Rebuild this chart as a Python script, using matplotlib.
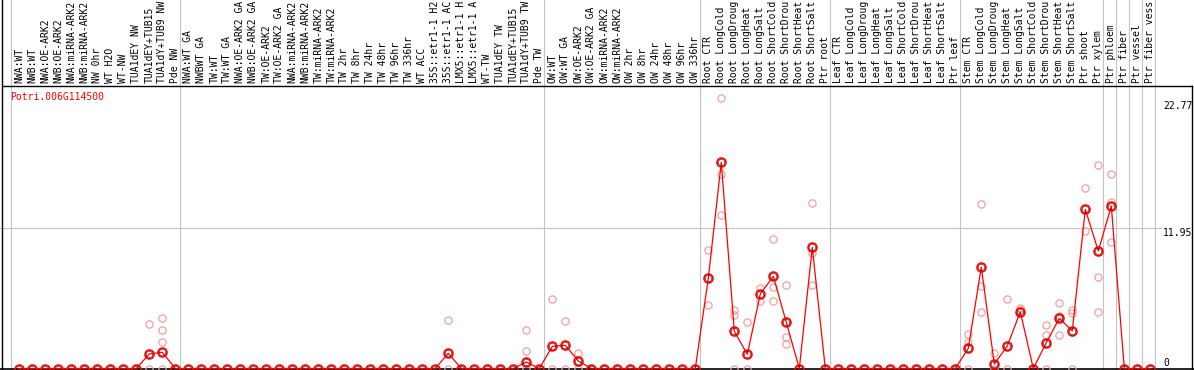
import numpy as np
import matplotlib
matplotlib.use("Agg")
import matplotlib.pyplot as plt
from matplotlib.transforms import blended_transform_factory

gene = "Potri.006G114500"

labels = [
    # NW
    "NWA:WT", "NWB:WT", "NWA:OE-ARK2", "NWB:OE-ARK2", "NWA:miRNA-ARK2", "NWB:miRNA-ARK2",
    "NW 0hr", "WT H2O", "WT-NW", "TUA1dEY NW", "TUA1dEY+TUB15", "TUA1dY+TUB9 NW", "Pde NW",
    # TW
    "NWA:WT GA", "NWBWT GA", "TW:WT", "TW:WT GA", "NWA:OE-ARK2 GA", "NWB:OE-ARK2 GA",
    "TW:OE-ARK2", "TW:OE-ARK2 GA", "NWA:miRNA-ARK2", "NWB:miRNA-ARK2", "TW:miRNA-ARK2",
    "TW:miRNA-ARK2", "TW 2hr", "TW 8hr", "TW 24hr", "TW 48hr", "TW 96hr", "TW 336hr",
    "WT ACC", "35S::etr1-1 H2", "35S::etr1-1 AC", "LMX5::etr1-1 H", "LMX5::etr1-1 A",
    "WT-TW", "TUA1dEY TW", "TUA1dEY+TUB15", "TUA1dY+TUB9 TW", "Pde TW",
    # OW
    "OW:WT", "OW:WT GA", "OW:OE-ARK2", "OW:OE-ARK2 GA", "OW:miRNA-ARK2", "OW:miRNA-ARK2",
    "OW 2hr", "OW 8hr", "OW 24hr", "OW 48hr", "OW 96hr", "OW 336hr",
    # root
    "Root CTR", "Root LongCold", "Root LongDroug", "Root LongHeat", "Root LongSalt",
    "Root ShortCold", "Root ShortDrou", "Root ShortHeat", "Root ShortSalt", "Ptr root",
    # leaf
    "Leaf CTR", "Leaf LongCold", "Leaf LongDroug", "Leaf LongHeat", "Leaf LongSalt",
    "Leaf ShortCold", "Leaf ShortDrou", "Leaf ShortHeat", "Leaf ShortSalt", "Ptr leaf",
    # stem
    "Stem CTR", "Stem LongCold", "Stem LongDroug", "Stem LongHeat", "Stem LongSalt",
    "Stem ShortCold", "Stem ShortDrou", "Stem ShortHeat", "Stem ShortSalt", "Ptr shoot", "Ptr xylem",
    # single tissues
    "Ptr phloem", "Ptr fiber", "Ptr vessel", "Ptr fiber vess",
]

# first index of each group (plus the single tissues at the end)
group_starts = [0, 13, 41, 53, 63, 73, 84, 85, 86, 87, 88]

means = [
    0, 0, 0, 0, 0, 0, 0, 0, 0, 0, 1.24, 1.38, 0,
    0, 0, 0, 0, 0, 0, 0, 0, 0, 0, 0, 0, 0, 0, 0, 0, 0, 0, 0, 0, 1.30, 0, 0, 0, 0, 0, 0.55, 0,
    1.89, 1.98, 0.64, 0, 0, 0, 0, 0, 0, 0, 0, 0,
    7.69, 17.58, 3.17, 1.21, 6.35, 7.86, 3.94, 0, 10.33, 0,
    0, 0, 0, 0, 0, 0, 0, 0, 0, 0,
    1.72, 8.65, 0.38, 1.92, 4.84, 0, 2.20, 4.28, 3.20, 13.57, 10.02,
    13.85, 0, 0, 0,
]

reps = [[] for _ in labels]
reps[10] = [3.77, 0]
reps[11] = [4.28, 3.26, 2.23, 0]
reps[33] = [4.11, 0]
reps[39] = [3.26, 1.49, 0]
reps[41] = [5.90, 0]
reps[42] = [4.02, 0]
reps[43] = [1.30, 0]
reps[53] = [10.10, 5.39]
reps[54] = [23.03, 16.56, 13.09]
reps[55] = [4.99, 4.56, 0]
reps[56] = [3.96, 0]
reps[57] = [6.89, 5.75]
reps[58] = [11.01, 6.92, 5.75]
reps[59] = [7.09, 2.69, 2.06]
reps[61] = [14.08, 9.87, 7.09]
reps[73] = [2.97, 2.23, 0]
reps[74] = [14.02, 7.01, 4.79]
reps[75] = [1.32, 0]
reps[76] = [5.90, 0]
reps[77] = [5.13, 4.96]
reps[79] = [3.68, 2.83, 0]
reps[80] = [5.61, 4.48, 2.86]
reps[81] = [4.99, 4.71, 0]
reps[82] = [15.39, 11.72]
reps[83] = [17.35, 7.80, 4.79]
reps[84] = [16.58, 14.22, 10.76]

y_ticks = [0, 11.95, 22.77]

W, H = 1194, 370
step = 13.0
x0 = 19.3
px_per_unit = 11.73
zero_px = 368.5
top_px = 86

mono = "DejaVu Sans Mono"
fs = 7.0
grey = "#c4c4c4"

xlim = (-x0 / step, (W - x0) / step)
xs = np.arange(len(labels))

fig = plt.figure(figsize=(W / 100, H / 100), dpi=100)

# background: group separators and column labels (pixel rows, index columns)
bg = fig.add_axes([0, 0, 1, 1])
bg.set_xlim(xlim)
bg.set_ylim(H, 0)
bg.axis("off")
for g in group_starts:
    bg.plot([g - 0.62, g - 0.62], [0, H], color=grey, lw=0.8)
for i, lab in enumerate(labels):
    bg.text(i, 83, lab, rotation=90, ha="center", va="bottom",
            fontsize=fs, family=mono, color="black")

# data axes
ax = fig.add_axes([0, 0, 1, (H - top_px) / H])
ax.set_xlim(xlim)
ax.set_ylim((zero_px - H) / px_per_unit, (zero_px - top_px) / px_per_unit)
ax.axis("off")
ax.patch.set_alpha(0)

ax.axhline(y_ticks[1], xmin=0, xmax=1161 / W, color=grey, lw=0.8)
ax.axhline(-0.04, color="black", lw=1.2)

for i, r in enumerate(reps):
    if r:
        ax.plot([i] * len(r), r, "o", mfc="none", mec="#f0a0a0", ms=5.2, mew=0.9, zorder=2)
ax.plot(xs, means, color="red", lw=0.9, zorder=3)
ax.plot(xs, means, "o", mfc="none", mec="red", ms=6.4, mew=1.2, zorder=4)
ax.plot(xs, means, "o", mfc="none", mec="#400000", ms=4.6, mew=0.4, zorder=5)

tr = blended_transform_factory(ax.transAxes, ax.transData)
for v in y_ticks:
    ax.text(1163 / W, v, f"{v:g}", transform=tr, ha="left",
            va="bottom" if v == 0 else "top", fontsize=fs, family=mono)

ax.text(10 / W, (zero_px - 91.5) / px_per_unit, gene, transform=tr, ha="left", va="top",
        fontsize=fs, family=mono, color="red")

# frame lines
fig.add_artist(plt.Line2D([1.5 / W, 1.5 / W], [0, 1], color="black", lw=1, transform=fig.transFigure))
fig.add_artist(plt.Line2D([1.5 / W, 1192 / W], [(H - 86) / H] * 2, color="black", lw=1, transform=fig.transFigure))
fig.add_artist(plt.Line2D([1192 / W, 1192 / W], [0, (H - 86) / H], color="black", lw=1, transform=fig.transFigure))

fig.savefig("out.png", dpi=100)
